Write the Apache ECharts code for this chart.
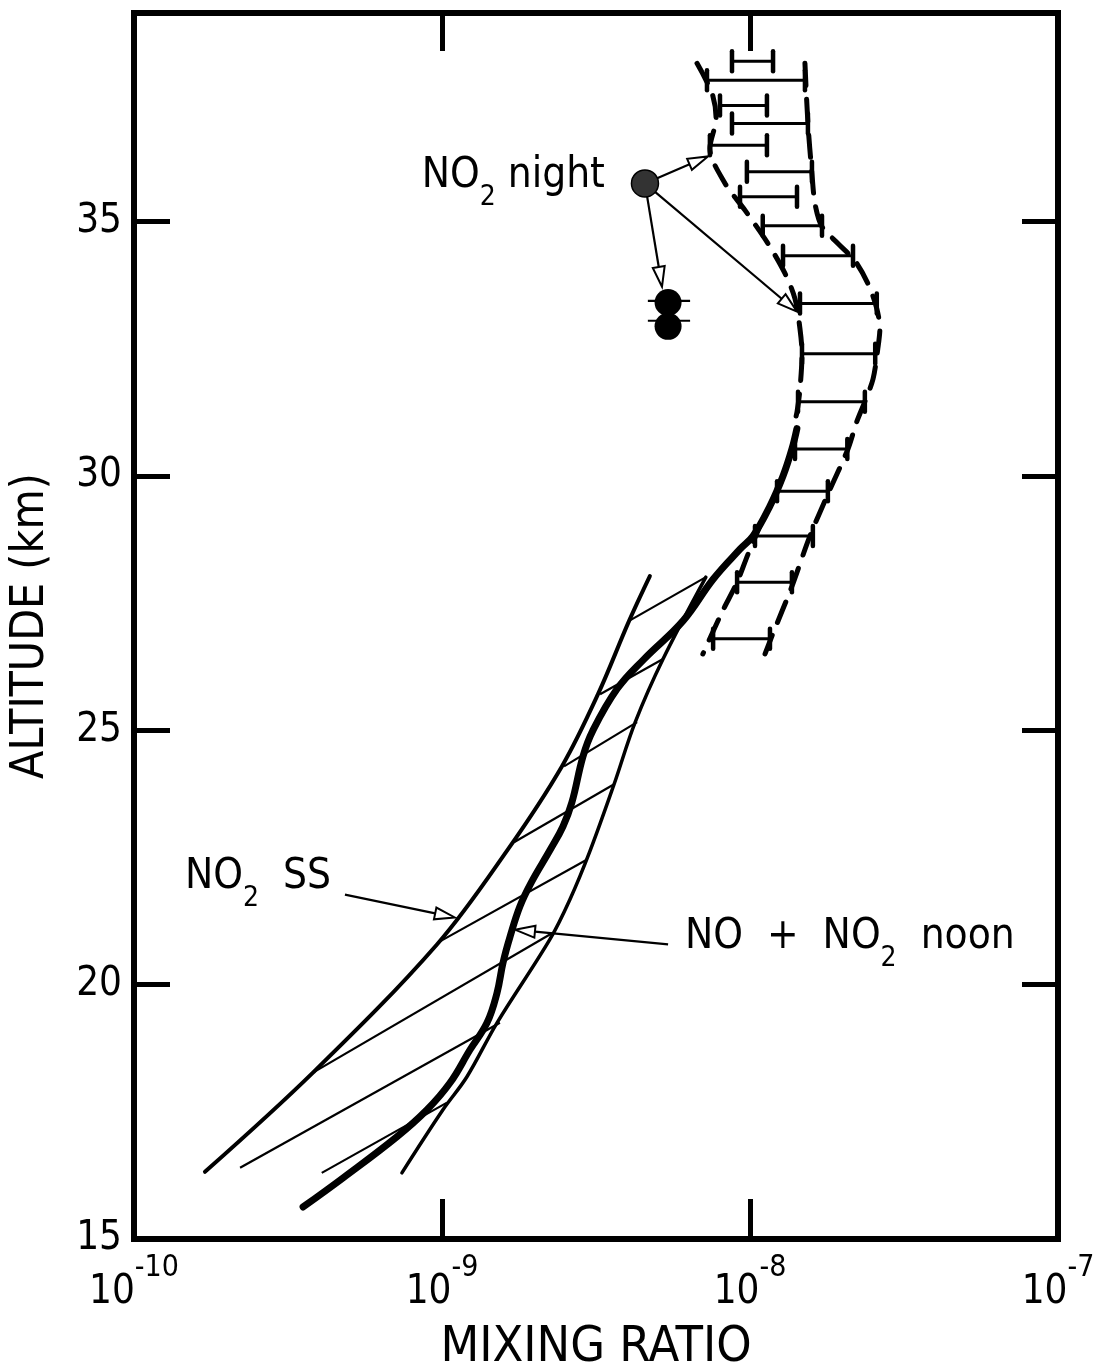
<!DOCTYPE html>
<html>
<head>
<meta charset="utf-8">
<script src="https://cdn.jsdelivr.net/npm/echarts@6.0.0/dist/echarts.min.js"></script>
<style>
  html, body { margin: 0; padding: 0; background: #fff; }
  #chart { width: 1094px; height: 1371px; }
</style>
</head>
<body>
<div id="chart"></div>
<script>
var chart = echarts.init(document.getElementById('chart'));

// [mixing ratio, altitude km]
var ssLine = [[1.70e-10,16.32],[3.81e-10,18.27],[9.63e-10,20.79],[1.637e-9,22.66],[2.45e-9,24.29],
  [3.21e-9,25.71],[4.05e-9,27.15],[4.73e-9,28.03]];
var noonLine = [[3.54e-10,15.63],[4.77e-10,16.20],[7.14e-10,17.01],[8.94e-10,17.54],[1.062e-9,18.07],
  [1.233e-9,18.72],[1.40e-9,19.25],[1.509e-9,19.84],[1.578e-9,20.43],[1.663e-9,20.94],[1.791e-9,21.54],
  [1.95e-9,22.01],[2.25e-9,22.66],[2.47e-9,23.11],[2.64e-9,23.58],[2.87e-9,24.49],[3.08e-9,24.98],
  [3.70e-9,25.81],[4.53e-9,26.40],[6.06e-9,27.15],[7.59e-9,27.97],[9.28e-9,28.56],[1.023e-8,28.82],
  [1.161e-8,29.41],[1.28e-8,30.0],[1.368e-8,30.53],[1.42e-8,30.93]];
var rightLine = [[7.41e-10,16.30],[1.007e-9,17.54],[1.205e-9,18.19],[1.509e-9,19.25],[2.24e-9,20.89],
  [2.60e-9,21.67],[3.02e-9,22.62],[3.62e-9,23.94],[4.24e-9,25.16],[5.22e-9,26.40],[7.19e-9,28.01]];
// hatch strokes: [x1, alt1, x2, alt2]
var hatches = [[4.05e-9,27.15,7.19e-9,28.01],[3.26e-9,25.71,5.22e-9,26.40],[2.49e-9,24.29,4.30e-9,25.16],
  [1.713e-9,22.80,3.62e-9,23.94],[9.85e-10,20.85,2.96e-9,22.46],[3.81e-10,18.27,2.29e-9,21.02],
  [2.21e-10,16.40,1.542e-9,19.25],[4.07e-10,16.30,1.038e-9,17.68]];

// night envelope (dashed)
var nightLeft = [[6.73e-9,38.11],[7.53e-9,37.52],[7.76e-9,37.03],[7.41e-9,36.44],[8.30e-9,35.75],
  [9.64e-9,35.22],[1.143e-8,34.57],[1.299e-8,33.98],[1.40e-8,33.48],[1.453e-8,32.89],[1.475e-8,32.40],
  [1.453e-8,31.71],[1.421e-8,31.26],[1.38e-8,30.93]];
var nightLeftLow = [[1.094e-8,29.11],[9.85e-9,28.46],[9.08e-9,27.91],[8.11e-9,27.32],[7.03e-9,26.50]];
var nightRight = [[1.508e-8,38.11],[1.542e-8,36.93],[1.589e-8,35.94],[1.626e-8,35.35],[1.713e-8,34.90],
  [1.93e-8,34.57],[2.19e-8,34.23],[2.415e-8,33.78],[2.58e-8,33.29],[2.64e-8,32.89],[2.60e-8,32.50],
  [2.51e-8,31.91],[2.36e-8,31.46],[2.22e-8,31.06],[2.08e-8,30.53],[1.82e-8,29.74],[1.566e-8,28.82],
  [1.368e-8,27.83],[1.178e-8,26.85],[1.119e-8,26.50]];
// bars: [x left, alt, x right]
var nightBars = [[8.74e-9,38.15,1.188e-8],[7.25e-9,37.78,1.508e-8],[7.99e-9,37.28,1.135e-8],
  [8.74e-9,36.93,1.542e-8],[7.41e-9,36.50,1.135e-8],[9.77e-9,35.98,1.589e-8],[9.28e-9,35.49,1.421e-8],
  [1.10e-8,34.92,1.713e-8],[1.28e-8,34.33,2.16e-8],[1.453e-8,33.39,2.58e-8],[1.475e-8,32.40,2.55e-8],
  [1.432e-8,31.46,2.36e-8],[1.40e-8,30.53,2.07e-8],[1.224e-8,29.70,1.79e-8],[1.038e-8,28.82,1.60e-8],
  [9.08e-9,27.91,1.368e-8],[7.59e-9,26.80,1.161e-8]];

var nightDot = [[4.56e-9,35.75]];
var dayDots = [[5.42e-9,33.41],[5.42e-9,32.94]];
var dayDotBars = [[4.66e-9,33.44,6.39e-9,33.44],[4.66e-9,33.05,6.39e-9,33.05]];

// arrows: [x from, alt from, x to, alt to]
var arrows = [[4.56e-9,35.75,7.30e-9,36.28],[4.56e-9,35.75,1.421e-8,33.23],[4.56e-9,35.75,5.18e-9,33.72],
  [4.84e-10,21.77,1.10e-9,21.32],[5.42e-9,20.79,1.726e-9,21.08]];

var noteText = ['{t|NO}{s|2}{t| night}', '{t|NO}{s|2}{t|  SS}', '{t|NO  +  NO}{s|2}{t|  noon}'];
var notePos = [[3.38e-9,35.75],[1.464e-10,21.97],[6.15e-9,20.79]];
var noteSide = ['left', 'right', 'right'];

var yTicks = [15, 20, 25, 30, 35];

var font = "'DejaVu Sans Condensed', 'DejaVu Sans', sans-serif";

function renderSeg(params, api) {
    var p0 = api.coord([api.value(0), api.value(1)]);
    var p1 = api.coord([api.value(2), api.value(3)]);
    return {
        type: 'line',
        shape: {x1: p0[0], y1: p0[1], x2: p1[0], y2: p1[1]},
        style: {stroke: '#000', lineWidth: 2.2}
    };
}

function renderBar(params, api) {
    var a = api.coord([api.value(0), api.value(1)]);
    var b = api.coord([api.value(2), api.value(1)]);
    var c = 10;
    return {
        type: 'group',
        children: [
            {type: 'line', shape: {x1: a[0], y1: a[1], x2: b[0], y2: b[1]}, style: {stroke: '#000', lineWidth: 3}},
            {type: 'line', shape: {x1: a[0], y1: a[1] - c, x2: a[0], y2: a[1] + c}, style: {stroke: '#000', lineWidth: 4.5, lineCap: 'round'}},
            {type: 'line', shape: {x1: b[0], y1: b[1] - c, x2: b[0], y2: b[1] + c}, style: {stroke: '#000', lineWidth: 4.5, lineCap: 'round'}}
        ]
    };
}

function renderArrow(params, api) {
    var p0 = api.coord([api.value(0), api.value(1)]);
    var p1 = api.coord([api.value(2), api.value(3)]);
    var dx = p1[0] - p0[0], dy = p1[1] - p0[1];
    var len = Math.sqrt(dx * dx + dy * dy);
    var ux = dx / len, uy = dy / len;
    var hl = 20, hw = 6;
    var bx = p1[0] - ux * hl, by = p1[1] - uy * hl;
    return {
        type: 'group',
        children: [
            {type: 'line', shape: {x1: p0[0], y1: p0[1], x2: bx, y2: by}, style: {stroke: '#000', lineWidth: 2.2}},
            {type: 'polygon', shape: {points: [[p1[0], p1[1]], [bx - uy * hw, by + ux * hw], [bx + uy * hw, by - ux * hw]]},
             style: {fill: '#fff', stroke: '#000', lineWidth: 2}}
        ]
    };
}

var noteData = notePos.map(function (p, i) {
    return {
        value: p,
        label: {position: noteSide[i], formatter: noteText[i]}
    };
});

var richNote = {
    t: {fontSize: 42, lineHeight: 56, verticalAlign: 'top', fontFamily: font, color: '#000'},
    s: {fontSize: 28, lineHeight: 28, verticalAlign: 'bottom', fontFamily: font, color: '#000'}
};

var option = {
    backgroundColor: '#fff',
    animation: false,
    grid: {
        left: 134, right: 36, top: 13, bottom: 132,
        outerBoundsMode: 'none',
        show: true, borderColor: '#000', borderWidth: 6
    },
    xAxis: [{
        type: 'log', logBase: 10, min: 1e-10, max: 1e-7,
        position: 'bottom',
        name: 'MIXING RATIO', nameLocation: 'middle', nameGap: 84,
        nameTextStyle: {fontSize: 50, fontFamily: font, color: '#000'},
        axisLine: {show: false},
        axisTick: {inside: true, length: 40, lineStyle: {color: '#000', width: 5}},
        splitLine: {show: false},
        axisLabel: {
            margin: 14,
            formatter: function (v) {
                return '{a|10}{b|' + Math.round(Math.log10(v)) + '}';
            },
            rich: {
                a: {fontSize: 40, lineHeight: 60, verticalAlign: 'bottom', fontFamily: font, color: '#000'},
                b: {fontSize: 30, lineHeight: 30, verticalAlign: 'top', fontFamily: font, color: '#000'}
            }
        }
    }, {
        type: 'log', logBase: 10, min: 1e-10, max: 1e-7,
        position: 'top',
        axisLine: {show: false},
        axisTick: {inside: true, length: 38, lineStyle: {color: '#000', width: 5}},
        axisLabel: {show: false},
        splitLine: {show: false}
    }],
    yAxis: [{
        type: 'value', min: 15, max: 39.1, interval: 5,
        position: 'left',
        name: 'ALTITUDE (km)', nameLocation: 'middle', nameGap: 80,
        nameTextStyle: {fontSize: 46, fontFamily: font, color: '#000'},
        axisLine: {show: false},
        axisTick: {inside: true, length: 36, lineStyle: {color: '#000', width: 5}},
        splitLine: {show: false},
        axisLabel: {
            margin: 12, fontSize: 40, fontFamily: font, color: '#000',
            showMaxLabel: false,
            formatter: function (v) { return yTicks.indexOf(v) >= 0 ? v : ''; }
        }
    }, {
        type: 'value', min: 15, max: 39.1, interval: 5,
        position: 'right',
        axisLine: {show: false},
        axisTick: {inside: true, length: 36, lineStyle: {color: '#000', width: 5}},
        axisLabel: {show: false},
        splitLine: {show: false}
    }],
    series: [
        {
            name: 'NO2 SS', type: 'line', data: ssLine, smooth: 0.35, symbol: 'none',
            lineStyle: {color: '#000', width: 4, cap: 'round'}, z: 3
        },
        {
            name: 'right', type: 'line', data: rightLine, smooth: 0.35, symbol: 'none',
            lineStyle: {color: '#000', width: 3.5, cap: 'round'}, z: 3
        },
        {
            name: 'NO + NO2 noon', type: 'line', data: noonLine, smooth: 0.4, symbol: 'none',
            lineStyle: {color: '#000', width: 7, cap: 'round'}, z: 4
        },
        {
            name: 'hatch', type: 'custom', renderItem: renderSeg, data: hatches.concat(dayDotBars), z: 3
        },
        {
            name: 'night left', type: 'line', data: nightLeft, smooth: 0.3, symbol: 'none',
            lineStyle: {color: '#000', width: 5, type: [22, 14], cap: 'round'}, z: 3
        },
        {
            name: 'night left low', type: 'line', data: nightLeftLow, smooth: 0.3, symbol: 'none',
            lineStyle: {color: '#000', width: 5, type: [22, 14], cap: 'round'}, z: 3
        },
        {
            name: 'night right', type: 'line', data: nightRight, smooth: 0.3, symbol: 'none',
            lineStyle: {color: '#000', width: 5, type: [22, 14], cap: 'round'}, z: 3
        },
        {
            name: 'night bars', type: 'custom', renderItem: renderBar, data: nightBars, z: 3
        },
        {
            name: 'arrows', type: 'custom', renderItem: renderArrow, data: arrows, z: 4
        },
        {
            name: 'NO2 night', type: 'scatter', data: nightDot, symbolSize: 27,
            itemStyle: {color: '#333', borderColor: '#000', borderWidth: 1.5, opacity: 1}, z: 6
        },
        {
            name: 'day', type: 'scatter', data: dayDots, symbolSize: 27,
            itemStyle: {color: '#000', opacity: 1}, z: 6
        },
        {
            name: 'notes', type: 'scatter', data: noteData, symbolSize: 0, z: 7,
            itemStyle: {opacity: 1},
            label: {show: true, distance: 0, color: '#000', rich: richNote}
        }
    ]
};

chart.setOption(option);
</script>
</body>
</html>
